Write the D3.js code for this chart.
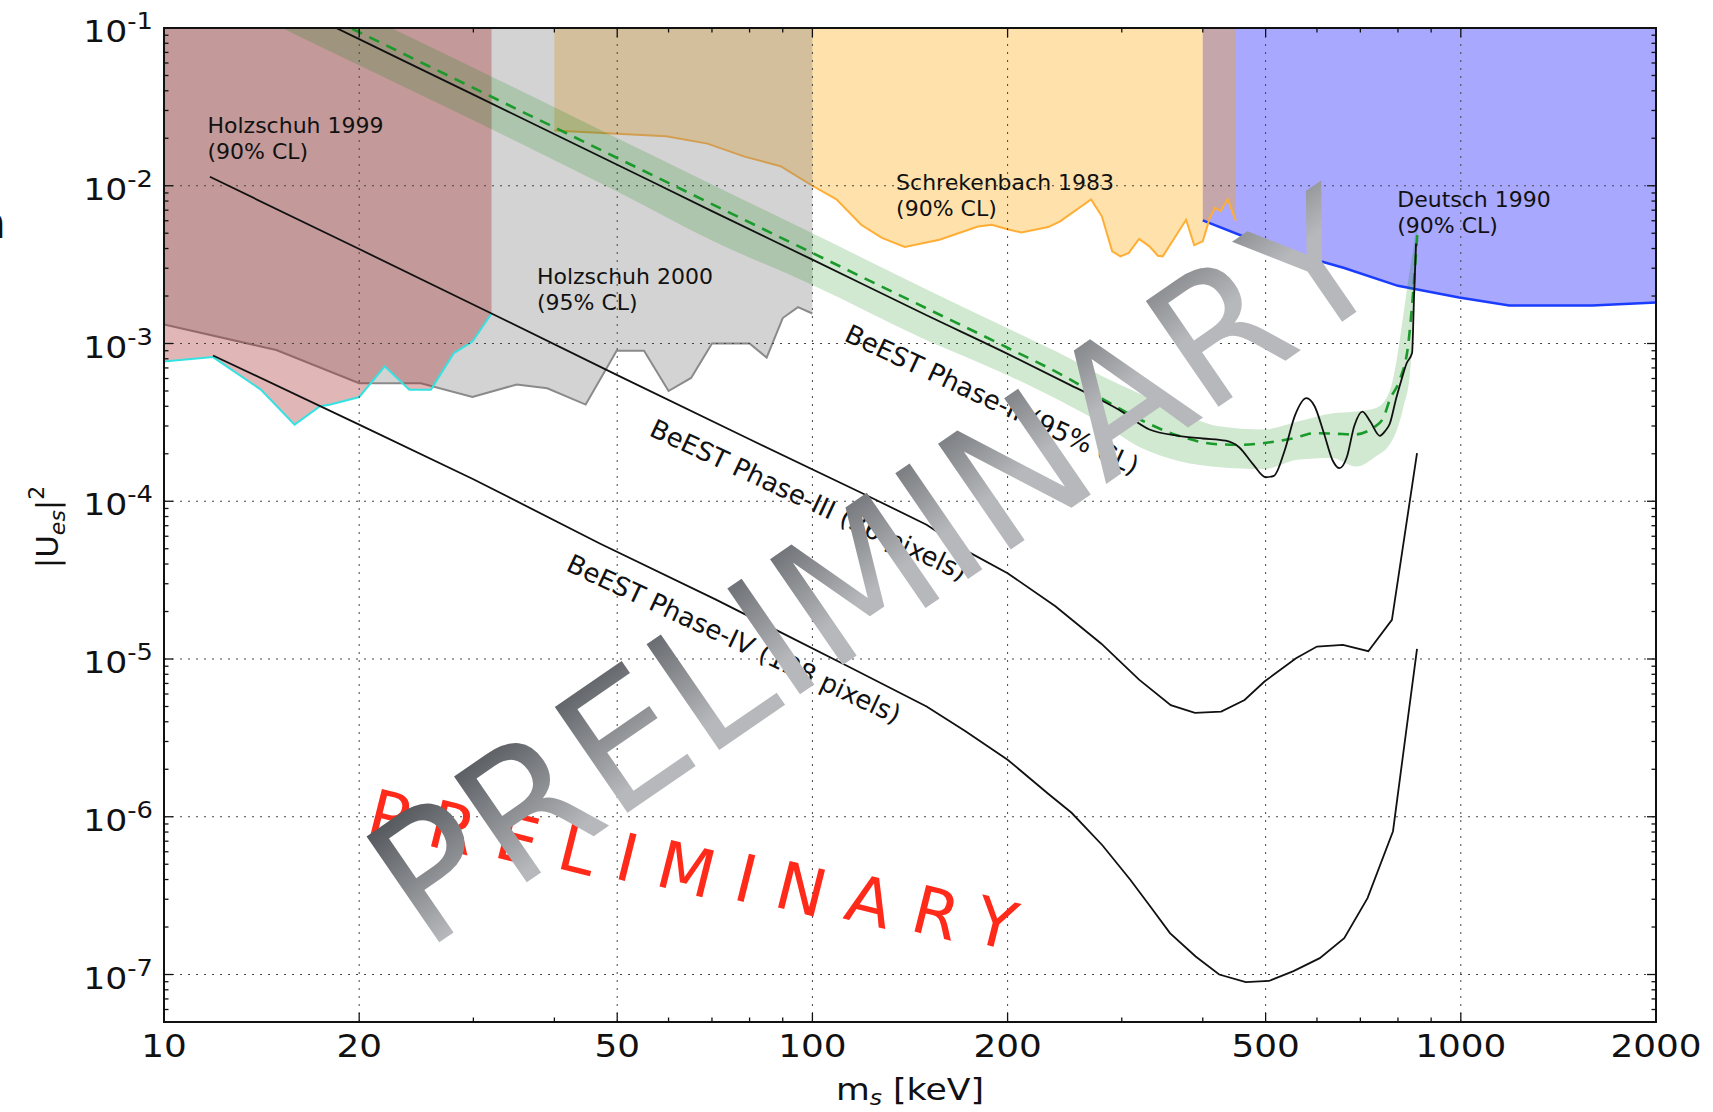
<!DOCTYPE html>
<html>
<head>
<meta charset="utf-8">
<script src="https://cdn.jsdelivr.net/npm/d3@7"></script>
<style>
  body { margin: 0; background: #fff; }
  svg { display: block; }
  text { font-family: "DejaVu Sans", sans-serif; fill: #111; }
</style>
</head>
<body>
<svg id="chart" width="1713" height="1112"></svg>
<script>
// ---- axis ticks ----
const massTicks = [10, 20, 50, 100, 200, 500, 1000, 2000];
const massMinorTicks = [30, 40, 60, 70, 80, 90, 300, 400, 600, 700, 800, 900];
const mixingExponents = [-1, -2, -3, -4, -5, -6, -7];

// ---- excluded regions: lower boundary of each, [mass keV, |U|^2] ----
const deutsch1990 = [[400, 6.03e-3], [506, 4.12e-3], [661, 3.01e-3], [800, 2.32e-3], [994, 1.96e-3],
  [1188, 1.74e-3], [1594, 1.74e-3], [2000, 1.82e-3]];
const schrekenbach1983 = [[40, 2.24e-2], [50, 2.14e-2], [59.5, 2.06e-2], [68.9, 1.85e-2], [78.6, 1.53e-2],
  [89.3, 1.33e-2], [100, 1.0e-2], [108.9, 8.2e-3], [118.9, 5.66e-3], [128, 4.67e-3], [138.8, 4.09e-3],
  [157, 4.55e-3], [180, 5.52e-3], [189, 5.66e-3], [200, 5.3e-3], [210, 5.06e-3], [231, 5.47e-3],
  [241, 5.94e-3], [269, 8.2e-3], [279.5, 6.4e-3], [290, 3.84e-3], [298.5, 3.57e-3], [307.6, 3.75e-3],
  [319, 4.6e-3], [331, 4.13e-3], [341, 3.6e-3], [347, 3.57e-3], [377, 6.09e-3], [388, 4.2e-3],
  [400, 4.44e-3], [410, 6.25e-3], [418, 7.23e-3], [426, 6.9e-3], [437, 8.2e-3], [448, 6.25e-3], [450, 6.0e-3]];
const holzschuh2000 = [[10, 1.32e-3], [14.9, 9.1e-4], [20, 5.6e-4], [24.9, 5.6e-4], [29.9, 4.58e-4],
  [35, 5.5e-4], [39, 5.2e-4], [44.7, 4.1e-4], [49.9, 9.0e-4], [55, 9.0e-4], [60, 5.0e-4], [65, 6.05e-4],
  [70, 1.0e-3], [80, 1.0e-3], [85, 8.15e-4], [90, 1.45e-3], [95, 1.7e-3], [100, 1.55e-3]];
const holzschuh1999 = [[10, 7.7e-4], [11.9, 8.2e-4], [14.1, 5.1e-4], [15.9, 3.06e-4], [17.4, 4.0e-4],
  [18, 4.09e-4], [20, 4.58e-4], [21.9, 7.16e-4], [23.9, 5.1e-4], [25.8, 5.1e-4], [28, 8.7e-4],
  [29.9, 1.03e-3], [32, 1.55e-3]];

// ---- BeEST sensitivities ----
const phase2Limit = [[12, 0.236], [20, 0.085], [30, 0.0378], [50, 0.0136], [70, 6.9e-3], [100, 3.4e-3],
  [150, 1.51e-3], [200, 8.6e-4], [250, 5.45e-4], [297, 3.8e-4], [331, 2.85e-4], [367, 2.6e-4],
  [400, 2.5e-4], [434, 2.42e-4], [455, 2.2e-4], [478, 1.72e-4], [500, 1.42e-4], [515, 1.45e-4],
  [535, 2.1e-4], [555, 3.5e-4], [578, 4.5e-4], [595, 4.0e-4], [615, 2.7e-4], [635, 1.8e-4],
  [650, 1.62e-4], [667, 1.9e-4], [685, 3.0e-4], [705, 3.7e-4], [725, 3.2e-4], [750, 2.6e-4],
  [765, 2.8e-4], [777, 3.1e-4], [795, 4.5e-4], [810, 5.9e-4], [825, 7.5e-4], [841, 8.7e-4],
  [847, 2.0e-3], [853, 4.3e-3]];
const phase2Median = [[12, 0.26], [20, 0.094], [30, 0.0417], [50, 0.015], [70, 7.65e-3], [100, 3.75e-3],
  [150, 1.67e-3], [200, 9.4e-4], [250, 5.9e-4], [279, 4.5e-4], [320, 3.3e-4], [367, 2.6e-4],
  [421, 2.3e-4], [460, 2.28e-4], [498, 2.34e-4], [550, 2.5e-4], [595, 2.7e-4], [640, 2.68e-4],
  [685, 2.65e-4], [735, 2.95e-4], [760, 3.4e-4], [777, 4.4e-4], [805, 5.9e-4], [830, 1.0e-3],
  [845, 2.2e-3], [857, 5.0e-3]];
const bandMass = [12, 20, 30, 50, 70, 100, 150, 200, 250, 280, 320, 367, 421, 498, 560, 632, 690,
  740, 777, 796, 815, 835, 850, 857];
const bandUpper = [0.34, 0.125, 0.056, 0.02, 0.0102, 5.0e-3, 2.2e-3, 1.25e-3, 8.0e-4, 6.2e-4, 4.8e-4,
  3.7e-4, 3.0e-4, 2.85e-4, 3.2e-4, 3.6e-4, 3.7e-4, 3.9e-4, 5.0e-4, 7.8e-4, 1.5e-3, 3.0e-3, 4.8e-3, 6.5e-3];
const bandLower = [0.16, 0.058, 0.026, 9.2e-3, 4.5e-3, 2.35e-3, 1.05e-3, 6.3e-4, 4.0e-4, 3.1e-4, 2.2e-4,
  1.8e-4, 1.65e-4, 1.6e-4, 1.83e-4, 1.88e-4, 1.66e-4, 1.93e-4, 2.3e-4, 2.8e-4, 3.9e-4, 6.5e-4, 2.0e-3, 4.5e-3];
const phase3Limit = [[11.77, 1.14e-2], [20, 3.97e-3], [32, 1.55e-3], [50, 6.3e-4], [80, 2.47e-4],
  [120.7, 1.1e-4], [150, 7.1e-5], [172, 4.9e-5], [200, 3.5e-5], [237, 2.16e-5], [279, 1.25e-5],
  [319, 7.4e-6], [357, 5.1e-6], [389, 4.55e-6], [427, 4.64e-6], [464, 5.5e-6], [498, 7.2e-6],
  [557, 1.01e-5], [600, 1.2e-5], [658, 1.23e-5], [720, 1.12e-5], [783, 1.77e-5], [856, 2.02e-4]];
const phase4Limit = [[11.9, 8.4e-4], [20, 3.06e-4], [30, 1.38e-4], [47, 5.4e-5], [71, 2.38e-5],
  [114, 8.9e-6], [150, 5.0e-6], [172, 3.5e-6], [200, 2.3e-6], [231, 1.4e-6], [251, 1.06e-6],
  [280, 6.6e-7], [309, 4.0e-7], [332, 2.7e-7], [356, 1.83e-7], [390, 1.3e-7], [424, 1.0e-7],
  [466, 8.96e-8], [506, 9.1e-8], [552, 1.05e-7], [606, 1.27e-7], [661, 1.7e-7], [718, 3.05e-7],
  [786, 8.1e-7], [856, 1.16e-5]];

// ---- text annotations (anchored in data units) ----
const regionLabels = [
  { m: 11.67, u: 2.15e-2, lines: ["Holzschuh 1999", "(90% CL)"] },
  { m: 37.6, u: 2.38e-3, lines: ["Holzschuh 2000", "(95% CL)"] },
  { m: 134.6, u: 9.4e-3, lines: ["Schrekenbach 1983", "(90% CL)"] },
  { m: 798, u: 7.3e-3, lines: ["Deutsch 1990", "(90% CL)"] }
];
const curveLabels = [
  { m: 111.5, u: 1.05e-3, text: "BeEST Phase-II (95% CL)" },
  { m: 55.8, u: 2.63e-4, text: "BeEST Phase-III (36 pixels)" },
  { m: 41.5, u: 3.66e-5, text: "BeEST Phase-IV (128 pixels)" }
];

// ---- layout ----
const svg = d3.select("#chart");
const plot = { left: 164, right: 1656, top: 28, bottom: 1022 };
const x = d3.scaleLog().domain([10, 2000]).range([plot.left, plot.right]);
const y = d3.scaleLog().domain([5e-8, 0.1]).range([plot.bottom, plot.top]);

const defs = svg.append("defs");
defs.append("clipPath").attr("id", "plotClip")
  .append("rect").attr("x", plot.left).attr("y", plot.top)
  .attr("width", plot.right - plot.left).attr("height", plot.bottom - plot.top);

const g = svg.append("g").attr("clip-path", "url(#plotClip)");

const regionArea = d3.area().x(d => x(d[0])).y0(plot.top).y1(d => y(d[1]));
const boundLine = d3.line().x(d => x(d[0])).y(d => y(d[1]));
const smoothLine = d3.line().x(d => x(d[0])).y(d => y(d[1])).curve(d3.curveMonotoneX);

// excluded regions (drawn so that later layers tint the earlier ones)
g.append("path").attr("d", regionArea(deutsch1990)).attr("fill", "#0000ff").attr("fill-opacity", 0.34);
g.append("path").attr("d", regionArea(schrekenbach1983)).attr("fill", "#ffa500").attr("fill-opacity", 0.33);
g.append("path").attr("d", boundLine(deutsch1990)).attr("fill", "none").attr("stroke", "#1a3cff").attr("stroke-width", 2.5);
g.append("path").attr("d", boundLine(schrekenbach1983)).attr("fill", "none").attr("stroke", "#ffae35").attr("stroke-width", 2);
g.append("path").attr("d", regionArea(holzschuh2000)).attr("fill", "#808080").attr("fill-opacity", 0.35);
g.append("path").attr("d", boundLine(holzschuh2000)).attr("fill", "none").attr("stroke", "#8a8a8a").attr("stroke-width", 2);
g.append("path").attr("d", regionArea(holzschuh1999)).attr("fill", "#a52a2a").attr("fill-opacity", 0.34);
g.append("path").attr("d", boundLine(holzschuh1999)).attr("fill", "none").attr("stroke", "#35e2e2").attr("stroke-width", 2);

// grid
const grid = g.append("g").attr("stroke", "#444").attr("stroke-width", 1).attr("stroke-dasharray", "2,6");
massTicks.forEach(m => grid.append("line").attr("x1", x(m)).attr("x2", x(m)).attr("y1", plot.top).attr("y2", plot.bottom));
mixingExponents.forEach(e => grid.append("line").attr("x1", plot.left).attr("x2", plot.right)
  .attr("y1", y(Math.pow(10, e))).attr("y2", y(Math.pow(10, e))));

// Phase-II band, median and limit
const band = d3.area().x((d, i) => x(bandMass[i])).y0((d, i) => y(bandLower[i])).y1((d, i) => y(bandUpper[i]))
  .curve(d3.curveMonotoneX);
g.append("path").attr("d", band(bandMass)).attr("fill", "#008000").attr("fill-opacity", 0.18);
g.append("path").attr("d", smoothLine(phase2Median)).attr("fill", "none").attr("stroke", "#1b9a2c")
  .attr("stroke-width", 2.6).attr("stroke-dasharray", "11,8");
g.append("path").attr("d", smoothLine(phase2Limit)).attr("fill", "none").attr("stroke", "#111").attr("stroke-width", 1.8);
g.append("path").attr("d", boundLine(phase3Limit)).attr("fill", "none").attr("stroke", "#111").attr("stroke-width", 1.8);
g.append("path").attr("d", boundLine(phase4Limit)).attr("fill", "none").attr("stroke", "#111").attr("stroke-width", 1.8);

// region labels
regionLabels.forEach(l => {
  const t = svg.append("text").attr("x", x(l.m)).attr("y", y(l.u)).attr("font-size", 22);
  l.lines.forEach((s, i) => t.append("tspan").attr("x", x(l.m)).attr("dy", i ? 26 : 0).text(s));
});
curveLabels.forEach(l => {
  svg.append("text").attr("transform", `translate(${x(l.m)},${y(l.u)}) rotate(25)`)
    .attr("font-size", 26).text(l.text);
});

// frame and ticks
const axes = svg.append("g").attr("stroke", "#111");
axes.append("rect").attr("x", plot.left).attr("y", plot.top).attr("width", plot.right - plot.left)
  .attr("height", plot.bottom - plot.top).attr("fill", "none").attr("stroke-width", 2);
function xTick(m, len) {
  axes.append("line").attr("x1", x(m)).attr("x2", x(m)).attr("y1", plot.bottom).attr("y2", plot.bottom - len).attr("stroke-width", 1.3);
  axes.append("line").attr("x1", x(m)).attr("x2", x(m)).attr("y1", plot.top).attr("y2", plot.top + len).attr("stroke-width", 1.3);
}
function yTick(u, len) {
  axes.append("line").attr("x1", plot.left).attr("x2", plot.left + len).attr("y1", y(u)).attr("y2", y(u)).attr("stroke-width", 1.3);
  axes.append("line").attr("x1", plot.right).attr("x2", plot.right - len).attr("y1", y(u)).attr("y2", y(u)).attr("stroke-width", 1.3);
}
massTicks.forEach(m => xTick(m, 9));
massMinorTicks.forEach(m => xTick(m, 4.5));
for (let e = -8; e <= -1; e++) {
  for (let k = 1; k <= 9; k++) {
    const u = k * Math.pow(10, e);
    if (u < 5e-8 || u > 0.1) continue;
    yTick(u, k === 1 ? 9 : 4.5);
  }
}

// tick labels (slightly wide lettering)
const wide = "scale(1.12,1)";
massTicks.forEach(m => svg.append("text").attr("transform", `translate(${x(m)},1057) ${wide}`)
  .attr("text-anchor", "middle").attr("font-size", 32).text(m));
mixingExponents.forEach(e => {
  const t = svg.append("text").attr("transform", `translate(153,${y(Math.pow(10, e)) + 14}) ${wide}`)
    .attr("text-anchor", "end").attr("font-size", 31);
  t.append("tspan").text("10");
  t.append("tspan").attr("dy", -13).attr("font-size", 23).text("-" + Math.abs(e));
});

// axis titles
const xt = svg.append("text").attr("transform", `translate(910,1100) ${wide}`)
  .attr("text-anchor", "middle").attr("font-size", 31);
xt.append("tspan").text("m");
xt.append("tspan").attr("dy", 5).attr("font-size", 21).attr("font-style", "italic").text("s");
xt.append("tspan").attr("dy", -5).text(" [keV]");
const yt = svg.append("text").attr("transform", "translate(58,527) rotate(-90)").attr("text-anchor", "middle").attr("font-size", 31);
yt.append("tspan").text("|U");
yt.append("tspan").attr("dy", 7).attr("font-size", 22).attr("font-style", "italic").text("es");
yt.append("tspan").attr("dy", -7).text("|");
yt.append("tspan").attr("dy", -14).attr("font-size", 22).text("2");
svg.append("text").attr("x", -22).attr("y", 238).attr("font-size", 44).text("n");

// watermarks
svg.append("text").attr("transform", "translate(364,834) rotate(10)")
  .attr("font-size", 66).attr("letter-spacing", 22).attr("rotate", "4")
  .style("fill", "#ff2a1a").text("PRELIMINARY");
const wm = defs.append("linearGradient").attr("id", "wmShade").attr("gradientUnits", "userSpaceOnUse")
  .attr("x1", 0).attr("y1", -130).attr("x2", 10).attr("y2", 0);
wm.append("stop").attr("offset", 0).attr("stop-color", "#53565b");
wm.append("stop").attr("offset", 1).attr("stop-color", "#b6b8bb");
svg.append("text").attr("transform", "translate(425,952) rotate(-34.5)")
  .attr("font-size", 176).style("font-kerning", "none").style("fill", "url(#wmShade)").text("PRELIMINARY");
</script>
</body>
</html>
